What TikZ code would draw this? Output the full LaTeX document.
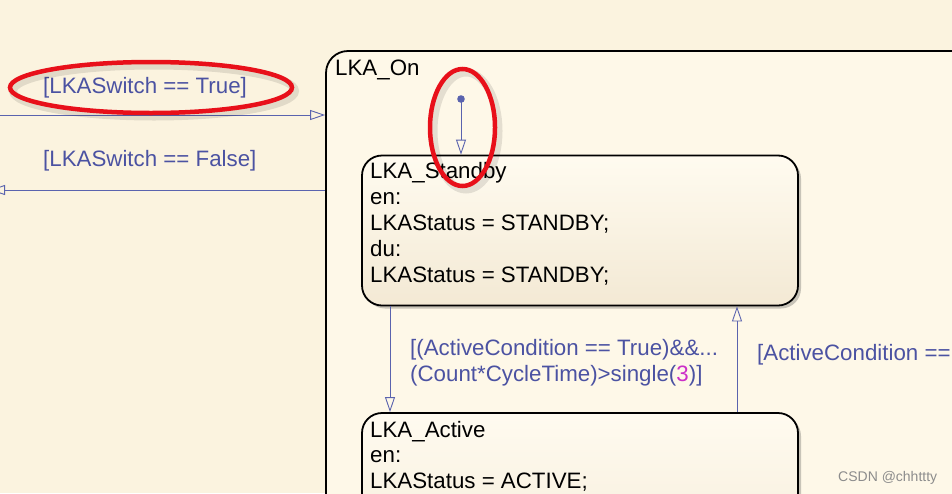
\documentclass[tikz,border=0pt]{standalone}
\usepackage{fontspec}
\setmainfont{Liberation Sans}
\usetikzlibrary{arrows.meta,shadows,shapes.geometric}
\definecolor{bgout}{HTML}{FBF3DF}
\definecolor{bgin}{HTML}{FEF8E8}
\definecolor{boxtop}{HTML}{FFFBF0}
\definecolor{boxbot}{HTML}{F3E9D4}
\definecolor{tblue}{HTML}{4B52A2}
\definecolor{lblue}{HTML}{5A63AE}
\definecolor{redring}{HTML}{E8101A}
\definecolor{mag}{HTML}{CC2EC8}
\definecolor{wm}{HTML}{8C8C8C}
\begin{document}
\begin{tikzpicture}[x=1pt,y=-1pt,font=\fontsize{22.3}{26}\selectfont]
\tikzset{
  outerbox/.style={draw=black, line width=1.8pt, rounded corners=22pt, fill=bgin,
    drop shadow={shadow xshift=3pt, shadow yshift=-3pt, opacity=0.25, fill=black!70}},
  statebox/.style={draw=black, line width=1.8pt, rounded corners=20pt,
    top color=boxtop, bottom color=boxbot,
    drop shadow={shadow xshift=3pt, shadow yshift=-3pt, opacity=0.3, fill=black!70}},
  trans/.style={draw=lblue, line width=0.9pt, -{Triangle[open,length=15pt,width=10pt]}},
  lbl/.style={text=tblue, anchor=base west, inner sep=0pt},
  txt/.style={text=black, anchor=base west, inner sep=0pt},
  ring/.style={draw=redring, line width=4.5pt, ellipse, inner sep=0pt, outer sep=0pt},
  ringshadow/.style={draw=black, opacity=0.10, line width=8pt}
}
\clip (0,0) rectangle (952,493);
\fill[bgout] (0,0) rectangle (952,493);

% outer state
\node[outerbox, minimum width=700pt, minimum height=500pt] (on) at (676,301) {};
\node[txt] (onlbl) at (335,75.7) {LKA\_On};

% inner states
\node[statebox, minimum width=436pt, minimum height=150pt] (standby) at (580,230.5) {};
\node[txt] (s1) at (370,178) {LKA\_Standby};
\node[txt] (s2) at (370,204) {en:};
\node[txt] (s3) at (370,230) {LKAStatus = STANDBY;};
\node[txt] (s4) at (370,256) {du:};
\node[txt] (s5) at (370,282) {LKAStatus = STANDBY;};

\node[statebox, minimum width=436pt, minimum height=187pt] (active) at (580,506.5) {};
\node[txt] (a1) at (370,437) {LKA\_Active};
\node[txt] (a2) at (370,462.7) {en:};
\node[txt] (a3) at (370,488) {LKAStatus = ACTIVE;};

% transitions into / out of LKA_On
\coordinate (leftT) at (0,115);
\coordinate (leftF) at (-10,190);
\draw[trans] (leftT) -- (leftT -| on.west);
\draw[trans] (leftF -| on.west) -- (leftF);
\node[lbl] (tTrue) at (43,93) {[LKASwitch == True]};
\node[lbl] (tFalse) at (43,166.7) {[LKASwitch == False]};

% default transition
\coordinate (dflt) at (461,99);
\fill[lblue] (dflt) circle (3.8);
\draw[trans] (dflt) -- (dflt |- standby.north);

% standby <-> active
\coordinate (xdown) at (390,0);
\coordinate (xup) at (737,0);
\draw[trans] (xdown |- standby.south) -- (xdown |- active.north);
\draw[trans] (xup |- active.north) -- (xup |- standby.south);
\node[lbl] (c1) at (410,355) {[(ActiveCondition == True)\&\&...};
\node[lbl] (c2) at (410,381) {(Count*CycleTime)>single(\textcolor{mag}{3})]};
\node[lbl] (c3) at (757,360.7) {[ActiveCondition ==};

% red annotation rings
\draw[ringshadow] (154,91) ellipse [x radius=141, y radius=25.5];
\node[ring, minimum width=282pt, minimum height=51pt] (ring1) at (151,87.5) {};
\draw[ringshadow] (466,131) ellipse [x radius=32.5, y radius=58.5];
\node[ring, minimum width=65pt, minimum height=117pt] (ring2) at (462.5,127.5) {};

% watermark
\node[text=wm, anchor=base west, inner sep=0pt, font=\fontsize{14}{16}\selectfont] (wmark) at (838,481) {CSDN @chhttty};
\end{tikzpicture}
\end{document}
